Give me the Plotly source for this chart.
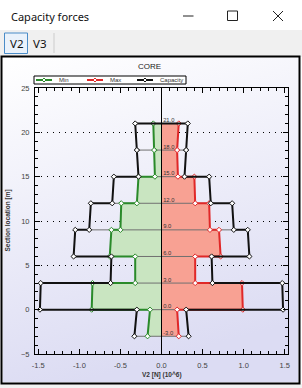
import base64
import plotly.graph_objects as go

# ---------------- data ----------------
levels = [-3, 0, 3, 6, 9, 12, 15, 18, 21]
# values of each section segment at its lower / upper end  (V2 [N] x10^6)
min_bot = [-0.17, -0.85, -0.32, -0.63, -0.50, -0.30, -0.08, -0.09]
min_top = [-0.14, -0.84, -0.32, -0.61, -0.49, -0.28, -0.085, -0.10]
max_bot = [0.21, 0.99, 0.41, 0.72, 0.59, 0.41, 0.20, 0.19]
max_top = [0.19, 0.98, 0.41, 0.70, 0.58, 0.40, 0.19, 0.21]
cap_bot = [0.33, 1.48, 0.62, 1.07, 0.88, 0.60, 0.28, 0.30]
cap_top = [0.30, 1.47, 0.61, 1.05, 0.86, 0.58, 0.30, 0.32]
level_labels = [f"{v:.1f}" for v in levels]
x_tickvals = [-1.5, -1.0, -0.5, 0.0, 0.5, 1.0, 1.5]
x_ticktext = ["-1.5", "-1.0", "-0.5", "0.0", "0.5", "1.0", "1.5"]
y_tickvals = [-5, 0, 5, 10, 15, 20, 25]
legend_names = ["Min", "Max", "Capacity"]

GREEN = "#2a8a2a"
RED = "#e02828"
BLACK = "#111111"
FONT = "Liberation Sans"


def step_path(bot, top):
    xs, ys = [], []
    for i in range(len(bot)):
        xs += [bot[i], top[i]]
        ys += [levels[i], levels[i + 1]]
    return xs, ys


fig = go.Figure()

mx, my = step_path(min_bot, min_top)
Mx, My = step_path(max_bot, max_top)
cx, cy = step_path(cap_bot, cap_top)
cap_x = cx + [-v for v in reversed(cx)]
cap_y = cy + list(reversed(cy))

# fills
fig.add_trace(go.Scatter(x=mx, y=my, mode="lines", fill="tozerox",
                         fillcolor="#c9e5c1", line=dict(width=0), hoverinfo="skip"))
fig.add_trace(go.Scatter(x=Mx, y=My, mode="lines", fill="tozerox",
                         fillcolor="#f8a193", line=dict(width=0), hoverinfo="skip"))

# thin section lines at each level
lx, ly = [], []
for j, lv in enumerate(levels):
    adj = []
    if j > 0:
        adj.append(cap_top[j - 1])
    if j < len(cap_bot):
        adj.append(cap_bot[j])
    w = min(adj)
    lx += [-w, w, None]
    ly += [lv, lv, None]
fig.add_trace(go.Scatter(x=lx, y=ly, mode="lines", line=dict(color="#707070", width=1),
                         hoverinfo="skip"))

marker_common = dict(symbol="diamond", size=4, color="white")
fig.add_trace(go.Scatter(x=mx, y=my, mode="lines+markers", name=legend_names[0],
                         line=dict(color=GREEN, width=2),
                         marker=dict(**marker_common, line=dict(color=GREEN, width=1))))
fig.add_trace(go.Scatter(x=Mx, y=My, mode="lines+markers", name=legend_names[1],
                         line=dict(color=RED, width=2),
                         marker=dict(**marker_common, line=dict(color=RED, width=1))))
fig.add_trace(go.Scatter(x=cap_x, y=cap_y, mode="lines+markers", name=legend_names[2],
                         line=dict(color=BLACK, width=2),
                         marker=dict(**marker_common, line=dict(color=BLACK, width=1))))

# level labels
fig.add_trace(go.Scatter(x=[0.02] * len(levels), y=levels, mode="text", text=level_labels,
                         textposition="top right",
                         textfont=dict(size=5.8, color="#333333", family=FONT),
                         hoverinfo="skip"))

# ---------------- layout / chrome ----------------
L, R, T, B = 35, 288, 88, 354


def px(x):
    return (x - L) / (R - L)


def py(y):
    return (B - y) / (B - T)


shapes = []
annotations = []


def rect(x0, y0, x1, y1, fill=None, line=None, lw=0, layer="below"):
    shapes.append(dict(type="rect", xref="paper", yref="paper",
                       x0=px(x0), x1=px(x1), y0=py(y0), y1=py(y1),
                       fillcolor=fill if fill else "rgba(0,0,0,0)",
                       line=dict(color=line if line else "rgba(0,0,0,0)", width=lw),
                       layer=layer))


def seg(x0, y0, x1, y1, color, w=1, layer="below"):
    shapes.append(dict(type="line", xref="paper", yref="paper",
                       x0=px(x0), x1=px(x1), y0=py(y0), y1=py(y1),
                       line=dict(color=color, width=w), layer=layer))


def diamond(cx_, cy_, color, r=2.0):
    pts = [(cx_ - r, cy_), (cx_, cy_ - r), (cx_ + r, cy_), (cx_, cy_ + r)]
    path = "M " + " L ".join(f"{px(a)},{py(b)}" for a, b in pts) + " Z"
    shapes.append(dict(type="path", xref="paper", yref="paper", path=path,
                       fillcolor="white", line=dict(color=color, width=1), layer="above"))


def text(x, y, s, size, xanchor="left", color="#222222", family=FONT, angle=0):
    annotations.append(dict(xref="paper", yref="paper", x=px(x), y=py(y), text=s,
                            showarrow=False, xanchor=xanchor, yanchor="middle",
                            textangle=angle,
                            font=dict(size=size, color=color, family=family)))


# tab bar
rect(0, 30, 302, 57, fill="#f0f0f0")
rect(4.5, 33, 27.5, 53.5, fill="#eaf2fb", line="#4a8cc8", lw=1)
seg(54, 33, 54, 53, "#cccccc")
text(16, 43.5, "V2", 11.5, xanchor="center", color="#111111", family="Noto Sans")
text(39, 43.5, "V3", 11.5, xanchor="center", color="#111111", family="Noto Sans")
# title bar
text(9, 16, "Capacity forces", 11, color="#111111", family="Noto Sans")
seg(183, 16, 193.5, 16, "#222222")
rect(227.5, 11, 237.5, 20.5, line="#222222", lw=1)
seg(273, 11, 283, 21, "#222222")
seg(283, 11, 273, 21, "#222222")
# bottom strip
rect(0, 384, 302, 388, fill="#f2f2f2")
# panel border
rect(1.5, 56.5, 299.5, 383.5, line="#000000", lw=2)

# legend
rect(34, 76, 186, 84, fill="white", line="#000000", lw=1, layer="above")
for (x0, col, name) in [(36, GREEN, legend_names[0]), (87, RED, legend_names[1]),
                        (137, BLACK, legend_names[2])]:
    seg(x0, 80, x0 + 16, 80, col, 2, layer="above")
    diamond(x0 + 8, 80, col)
    text(x0 + 21, 80.5, name, 6, color="#333333")

# titles
text(149, 66.5, "CORE", 8, xanchor="center", color="#222222")
text(161.5, 375, "<b>V2 [N] (10^6)</b>", 6.5, xanchor="center", color="#333333")
text(7.5, 221, "<b>Section location [m]</b>", 6.5, xanchor="center", color="#333333", angle=-90)

# zero line
shapes.append(dict(type="line", xref="x", yref="paper", x0=0, x1=0, y0=0, y1=1,
                   line=dict(color="#000000", width=1), layer="above"))

svg = ("<svg xmlns='http://www.w3.org/2000/svg' width='100' height='100' "
       "preserveAspectRatio='none'><defs><linearGradient id='g' x1='0' y1='0' x2='0.25' y2='1'>"
       "<stop offset='0' stop-color='#ffffff'/><stop offset='1' stop-color='#dcdcf3'/>"
       "</linearGradient></defs><rect width='100' height='100' fill='url(#g)'/></svg>")
src = "data:image/svg+xml;base64," + base64.b64encode(svg.encode()).decode()

fig.update_layout(
    width=302, height=388, autosize=False,
    margin=dict(l=L, r=302 - R, t=T, b=388 - B, pad=0),
    paper_bgcolor="white", plot_bgcolor="#fdfde7",
    showlegend=False,
    shapes=shapes, annotations=annotations,
    images=[dict(source=src, xref="paper", yref="paper", x=px(2.5), y=py(57.5),
                 sizex=px(298.5) - px(2.5), sizey=py(57.5) - py(382.5),
                 xanchor="left", yanchor="top", sizing="stretch", layer="below")],
    xaxis=dict(range=[-1.54, 1.54], tickvals=x_tickvals, ticktext=x_ticktext,
               ticks="inside", ticklen=5, tickcolor="#000000", tickwidth=1,
               showline=True, linecolor="#000000", linewidth=1, mirror="ticks",
               showgrid=False, zeroline=False, ticklabelstandoff=4,
               minor=dict(tick0=0, dtick=0.1, ticks="inside", ticklen=3,
                          tickcolor="#000000", showgrid=False),
               tickfont=dict(size=7.5, color="#444444", family=FONT)),
    yaxis=dict(range=[-5, 25], tickvals=y_tickvals,
               ticks="inside", ticklen=5, tickcolor="#000000", tickwidth=1,
               showline=True, linecolor="#000000", linewidth=1, mirror="ticks",
               showgrid=True, gridcolor="#000000", gridwidth=1, griddash="1px,5px",
               zeroline=False, ticklabelstandoff=3,
               minor=dict(tick0=0, dtick=1, ticks="inside", ticklen=3,
                          tickcolor="#000000", showgrid=False),
               tickfont=dict(size=7.5, color="#444444", family=FONT)),
)

fig.write_html("out.html")
